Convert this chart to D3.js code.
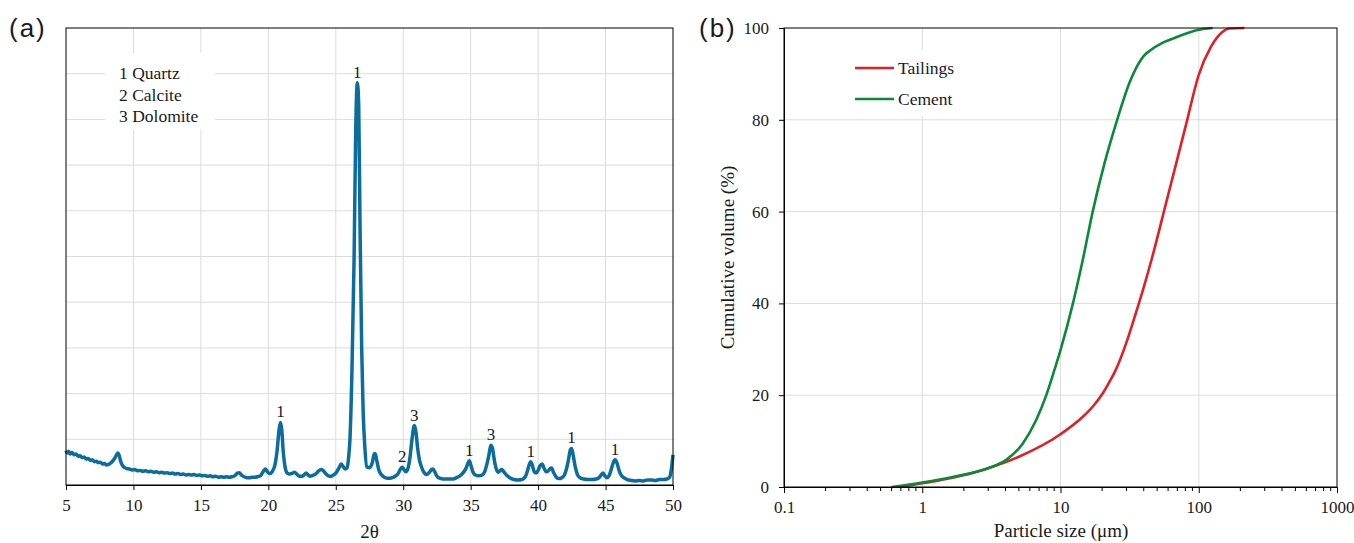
<!DOCTYPE html>
<html>
<head>
<meta charset="utf-8">
<script src="https://cdn.jsdelivr.net/npm/d3@7"></script>
<style>
  body { margin: 0; background: #fff; }
  svg { display: block; }
  .serif, .tick text { font-family: "Liberation Serif", "Times New Roman", serif; fill: #1a1a1a; }
  .sans { font-family: "Liberation Sans", Arial, sans-serif; fill: #1a1a1a; }
</style>
</head>
<body>
<svg id="fig" width="1354" height="543"></svg>
<script>
// ---- (a) XRD pattern ----
const twoTheta = [
  5.0, 5.1, 5.2, 5.3, 5.45, 5.6, 5.75, 5.9, 6.05, 6.2, 6.35, 6.5, 6.65, 6.8, 6.95, 7.1, 7.25, 7.4, 7.55, 7.7, 7.85,
  8.0, 8.15, 8.3, 8.45, 8.6, 8.75, 8.85, 8.95, 9.05, 9.2, 9.35, 9.5, 9.7, 9.9, 10.1, 10.3, 10.5, 10.7, 10.9,
  11.1, 11.3, 11.5, 11.7, 11.9, 12.1, 12.3, 12.5, 12.7, 12.9, 13.1, 13.3, 13.5, 13.7, 13.9, 14.1, 14.3, 14.5,
  14.7, 14.9, 15.1, 15.3, 15.5, 15.7, 15.9, 16.1, 16.3, 16.5, 16.7, 16.9, 17.1, 17.3, 17.5, 17.7, 17.85, 18.0,
  18.2, 18.4, 18.6, 18.8, 19.0, 19.2, 19.4, 19.55, 19.7, 19.8, 19.95, 20.1, 20.3, 20.5, 20.65, 20.8, 20.9, 21.0,
  21.1, 21.25, 21.4, 21.6, 21.8, 21.95, 22.1, 22.3, 22.5, 22.65, 22.8, 22.95, 23.1, 23.3, 23.5, 23.7, 23.9, 24.05,
  24.25, 24.45, 24.65, 24.85, 25.05, 25.25, 25.4, 25.55, 25.7, 25.84, 25.95, 26.05, 26.2, 26.36, 26.48, 26.6,
  26.7, 26.8, 26.92, 27.03, 27.15, 27.3, 27.5, 27.7, 27.85, 27.92, 28.05, 28.2, 28.4, 28.6, 28.8, 29.0, 29.2,
  29.4, 29.6, 29.8, 29.92, 30.05, 30.2, 30.35, 30.5, 30.65, 30.82, 30.95, 31.05, 31.2, 31.35, 31.55, 31.75, 31.95,
  32.1, 32.2, 32.35, 32.55, 32.8, 33.1, 33.4, 33.7, 33.95, 34.2, 34.45, 34.65, 34.8, 34.9, 35.0, 35.15, 35.35,
  35.6, 35.85, 36.05, 36.2, 36.35, 36.5, 36.62, 36.75, 36.9, 37.05, 37.2, 37.3, 37.45, 37.65, 37.9, 38.2, 38.5,
  38.8, 39.05, 39.2, 39.35, 39.45, 39.55, 39.7, 39.85, 40.0, 40.15, 40.3, 40.45, 40.6, 40.75, 40.9, 41.0, 41.15,
  41.35, 41.55, 41.75, 41.95, 42.1, 42.25, 42.4, 42.48, 42.6, 42.75, 42.9, 43.1, 43.4, 43.7, 44.0, 44.3, 44.55,
  44.7, 44.8, 44.95, 45.1, 45.25, 45.4, 45.55, 45.7, 45.85, 46.0, 46.15, 46.35, 46.6, 46.9, 47.2, 47.5, 47.8,
  48.1, 48.4, 48.7, 49.0, 49.3, 49.55, 49.75, 49.88, 50.0
];
const intensity = [
  75, 70, 74, 68, 71, 66, 68, 63, 64, 60, 61, 57, 58, 54, 55, 51, 52, 49, 50, 46, 47,
  44, 45, 48, 52, 58, 66, 70, 64, 52, 42, 38, 36, 35, 33, 34, 31, 32, 30, 31,
  29, 30, 28, 29, 27, 28, 26, 27, 25, 26, 24, 25, 23, 24, 22, 23, 22, 23,
  21, 22, 20, 21, 19, 20, 18, 19, 17, 18, 17, 18, 17, 18, 20, 26, 27, 22,
  18, 16, 16, 17, 17, 18, 20, 26, 33, 35, 28, 25, 30, 45, 75, 122, 137, 120,
  75, 38, 26, 24, 26, 28, 24, 19, 19, 22, 26, 22, 19, 21, 24, 30, 34, 32,
  25, 20, 19, 22, 28, 38, 46, 40, 35, 38, 60, 100, 250, 500, 780, 880,
  830, 560, 300, 160, 85, 40, 38, 48, 68, 69, 52, 32, 22, 17, 15, 15, 16,
  19, 24, 35, 39, 34, 29, 36, 60, 100, 130, 115, 85, 55, 40, 27, 23, 28,
  34, 35, 28, 17, 14, 13, 13, 13, 16, 20, 27, 36, 48, 53, 45, 30, 22,
  20, 22, 30, 45, 65, 87, 80, 55, 35, 28, 32, 34, 29, 22, 16, 12, 11,
  12, 18, 30, 45, 51, 45, 30, 26, 32, 42, 46, 36, 29, 31, 36, 37, 27,
  17, 14, 16, 22, 35, 55, 78, 80, 65, 40, 24, 16, 13, 12, 12, 13, 17,
  23, 26, 20, 16, 20, 32, 47, 55, 48, 32, 22, 16, 12, 10, 9, 10, 9,
  11, 11, 10, 12, 12, 13, 17, 35, 66
];
const xrdTicks = [5, 10, 15, 20, 25, 30, 35, 40, 45, 50];
const peakTheta = [20.9, 26.6, 29.92, 30.82, 34.9, 36.5, 39.45, 42.48, 45.7];
const peakPhase = ["1", "1", "2", "3", "1", "3", "1", "1", "1"];
const phaseLegend = ["1 Quartz", "2 Calcite", "3 Dolomite"];

// ---- (b) particle size distribution ----
const tailingsSize = [0.7, 1, 1.66, 3, 5, 10, 14.5, 17.2, 20, 22.5, 25, 30, 35, 40, 46, 56.5, 68.7, 81, 100, 123, 149, 166, 214];
const tailingsVol  = [0, 0.8, 2.0, 4.1, 6.6, 11.5, 15.3, 17.6, 20.2, 22.8, 25.4, 31.5, 37.8, 43.5, 50, 60.5, 70.5, 79, 89.8, 96, 99.2, 99.9, 100];
const cementSize = [0.6, 1, 1.66, 3, 4.05, 5.34, 6.67, 7.87, 9.04, 10, 12.3, 14.5, 17.1, 20.8, 25.7, 31.5, 36, 40.5, 44, 55, 72, 96, 126];
const cementVol  = [0, 1.0, 2.2, 4.1, 5.9, 9.5, 14.6, 19.9, 25.5, 29.8, 40, 49.5, 60, 70.5, 80, 88, 91.8, 94.1, 95.0, 96.8, 98.2, 99.5, 100];
const psdSeries = ["Tailings", "Cement"];
const psdColors = ["#e02027", "#0a8a37"];
const sizeTicks = [0.1, 1, 10, 100, 1000];
const volTicks = [0, 20, 40, 60, 80, 100];

const svg = d3.select("#fig");
const gridColor = "#dcdcdc";
const serifFont = "Liberation Serif, Times New Roman, serif";
const tickFont = 17;
const titleFont = 19;

function styleAxis(sel) {
  sel.attr("font-family", serifFont).attr("font-size", tickFont);
  sel.select(".domain").attr("stroke", "#000");
  sel.selectAll("line").attr("stroke", "#000");
  sel.selectAll("text").attr("fill", "#1a1a1a");
}

// ================= panel (a) =================
{
  const L = 66, R = 673, T = 28, B = 485;
  const x = d3.scaleLinear().domain([5, 50]).range([L, R]);
  const y = d3.scaleLinear().domain([0, 1000]).range([B, T]);
  const g = svg.append("g");

  // grid
  g.selectAll(".vg").data(xrdTicks.slice(1, -1)).join("line")
    .attr("x1", d => x(d)).attr("x2", d => x(d)).attr("y1", T).attr("y2", B)
    .attr("stroke", gridColor).attr("stroke-width", 1);
  g.selectAll(".hg").data(d3.range(100, 1000, 100)).join("line")
    .attr("x1", L).attr("x2", R).attr("y1", d => y(d)).attr("y2", d => y(d))
    .attr("stroke", gridColor).attr("stroke-width", 1);

  // phase key on a white patch
  g.append("rect").attr("x", 105).attr("y", 53).attr("width", 110).attr("height", 77).attr("fill", "#fff");
  g.selectAll(".lg").data(phaseLegend).join("text")
    .attr("class", "serif").attr("x", 119).attr("y", (d, i) => 79 + i * 21.5)
    .attr("font-size", 17.5).text(d => d);

  // diffraction pattern
  const pts = twoTheta.map((t, i) => [t, intensity[i]]);
  g.append("path").datum(pts)
    .attr("fill", "none").attr("stroke", "#0b6d9d").attr("stroke-width", 3.5)
    .attr("stroke-linejoin", "round")
    .attr("d", d3.line().x(d => x(d[0])).y(d => y(d[1])).curve(d3.curveMonotoneX));

  // phase numbers above the peaks
  const peakVal = t => intensity[twoTheta.indexOf(t)];
  g.selectAll(".pk").data(peakTheta).join("text")
    .attr("class", "serif").attr("font-size", 17).attr("text-anchor", "middle")
    .attr("x", d => x(d)).attr("y", d => y(peakVal(d)) - 5)
    .text((d, i) => peakPhase[i]);

  // frame
  g.append("rect").attr("x", L).attr("y", T).attr("width", R - L).attr("height", B - T)
    .attr("fill", "none").attr("stroke", "#000").attr("stroke-width", 1);

  // x axis
  const ax = g.append("g").attr("transform", `translate(0,${B})`)
    .call(d3.axisBottom(x).tickValues(xrdTicks).tickSize(5).tickPadding(9).tickFormat(d3.format("d")));
  styleAxis(ax);

  g.append("text").attr("class", "serif").attr("font-size", titleFont).attr("text-anchor", "middle")
    .attr("x", (L + R) / 2).attr("y", 538).text("2θ");

  svg.append("text").attr("class", "sans").attr("font-size", 26).attr("letter-spacing", 2)
    .attr("x", 9).attr("y", 37).text("(a)");
}

// ================= panel (b) =================
{
  const L = 784, R = 1337, T = 28, B = 487;
  const x = d3.scaleLog().domain([0.1, 1000]).range([L, R]);
  const y = d3.scaleLinear().domain([0, 100]).range([B, T]);
  const g = svg.append("g");

  g.selectAll(".vg").data(sizeTicks.slice(1, -1)).join("line")
    .attr("x1", d => x(d)).attr("x2", d => x(d)).attr("y1", T).attr("y2", B)
    .attr("stroke", gridColor).attr("stroke-width", 1);
  g.selectAll(".hg").data(volTicks.slice(1, -1)).join("line")
    .attr("x1", L).attr("x2", R).attr("y1", d => y(d)).attr("y2", d => y(d))
    .attr("stroke", gridColor).attr("stroke-width", 1);

  // legend
  g.append("rect").attr("x", 845).attr("y", 50).attr("width", 125).attr("height", 66).attr("fill", "#fff");
  psdSeries.forEach((s, i) => {
    const yy = 68 + i * 31;
    g.append("line").attr("x1", 855).attr("x2", 894).attr("y1", yy).attr("y2", yy)
      .attr("stroke", psdColors[i]).attr("stroke-width", 2.5);
    g.append("text").attr("class", "serif").attr("font-size", 17.5).attr("x", 898).attr("y", yy + 6).text(s);
  });

  const line = d3.line().x(d => x(d[0])).y(d => y(d[1])).curve(d3.curveMonotoneX);
  const series = [
    tailingsSize.map((s, i) => [s, tailingsVol[i]]),
    cementSize.map((s, i) => [s, cementVol[i]])
  ];
  series.forEach((pts, i) => {
    g.append("path").datum(pts).attr("fill", "none")
      .attr("stroke", psdColors[i]).attr("stroke-width", 2.6)
      .attr("stroke-linejoin", "round").attr("d", line);
  });

  g.append("rect").attr("x", L).attr("y", T).attr("width", R - L).attr("height", B - T)
    .attr("fill", "none").attr("stroke", "#000").attr("stroke-width", 1);

  // x axis with minor ticks
  const minor = [];
  for (let e = -1; e < 3; e++) for (let k = 2; k <= 9; k++) minor.push(k * Math.pow(10, e));
  g.append("g").selectAll("line").data(minor).join("line")
    .attr("x1", d => x(d)).attr("x2", d => x(d)).attr("y1", B).attr("y2", B + 4)
    .attr("stroke", "#000");
  const ax = g.append("g").attr("transform", `translate(0,${B})`)
    .call(d3.axisBottom(x).tickValues(sizeTicks).tickSize(6).tickPadding(8).tickFormat(d => String(d)));
  styleAxis(ax);

  const ay = g.append("g").attr("transform", `translate(${L},0)`)
    .call(d3.axisLeft(y).tickValues(volTicks).tickSize(5).tickPadding(10));
  styleAxis(ay);

  g.append("text").attr("class", "serif").attr("font-size", titleFont).attr("text-anchor", "middle")
    .attr("x", 1061).attr("y", 537).text("Particle size (μm)");
  g.append("text").attr("class", "serif").attr("font-size", titleFont).attr("text-anchor", "middle")
    .attr("transform", `translate(734,${(T + B) / 2}) rotate(-90)`).text("Cumulative volume (%)");

  svg.append("text").attr("class", "sans").attr("font-size", 26).attr("letter-spacing", 2)
    .attr("x", 699).attr("y", 37).text("(b)");
}
</script>
</body>
</html>
